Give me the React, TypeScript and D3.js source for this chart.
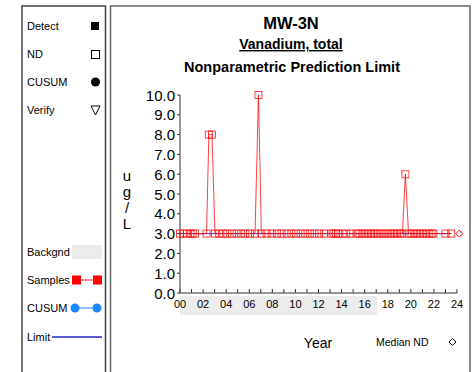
import React from "react";
import * as d3 from "d3";

const sampleYears = [
  0, 0.3, 0.6, 0.9, 1.1, 1.3,
  2.3, 2.5, 2.77, 3.03, 3.4, 3.75, 4.1, 4.5, 4.9, 5.3, 5.65, 6.07, 6.5, 6.8, 7.05,
  7.5, 7.95, 8.4, 8.8, 9.25, 9.65, 10.05, 10.45, 10.85, 11.25, 11.65, 12.05, 12.5,
  13.1, 13.3, 13.5, 13.7, 14.1, 14.4, 14.8, 15.3,
  15.55, 15.8, 16.05, 16.3, 16.55, 16.8, 17.05, 17.3, 17.55, 17.8, 18.05, 18.3, 18.55, 18.8, 19.05,
  19.27, 19.53, 19.8, 20.05, 20.3, 20.55, 20.8, 21.05, 21.3, 21.55, 21.8, 21.95,
  23.0, 23.5,
];
const sampleValues = [
  3, 3, 3, 3, 3, 3,
  3, 8, 8, 3, 3, 3, 3, 3, 3, 3, 3, 3, 3, 10, 3,
  3, 3, 3, 3, 3, 3, 3, 3, 3, 3, 3, 3, 3,
  3, 3, 3, 3, 3, 3, 3, 3,
  3, 3, 3, 3, 3, 3, 3, 3, 3, 3, 3, 3, 3, 3, 3,
  3, 6, 3, 3, 3, 3, 3, 3, 3, 3, 3, 3,
  3, 3,
];
const limitValue = 3.0;
const limitRange = [0, 23.5];
const medianND = { year: 24.2, value: 3.0 };
const backgroundRange = [0, 17.1];
const yTicks = [0, 1, 2, 3, 4, 5, 6, 7, 8, 9, 10];
const xMinorTicks = d3.range(0, 25, 1);
const xLabelTicks = d3.range(0, 25, 2);
const legendSymbols = ["Detect", "ND", "CUSUM", "Verify"];
const legendLines = ["Backgnd", "Samples", "CUSUM", "Limit"];

const FONT = "Liberation Sans, Arial, sans-serif";

export default function App() {
  const x = d3.scaleLinear().domain([0, 24]).range([180, 457]);
  const y = d3.scaleLinear().domain([0, 10]).range([293, 95]);
  const pts = sampleYears.map((yr, i) => [yr, sampleValues[i]] as [number, number]);
  const line = d3.line<[number, number]>().x((d) => x(d[0])).y((d) => y(d[1]));
  const ms = 7;
  const red = "#ff0000";

  const symY = [26, 54, 82, 110];
  const lineY = [252, 280, 308, 337];

  return (
    <svg
      width={476}
      height={372}
      style={{ position: "absolute", left: 0, top: 0, background: "#fff" }}
      fontFamily={FONT}
    >
      <rect x={0} y={0} width={476} height={372} fill="#fff" />
      {/* panels */}
      <path d="M22,380 V6 H105.5 V380" fill="none" stroke="#444" strokeWidth={1.5} />
      <path d="M110.5,380 V6 H470 V380" fill="none" stroke="#666" strokeWidth={1.5} />

      {/* left legend symbols */}
      {legendSymbols.map((name, i) => (
        <text key={name} x={27} y={symY[i] + 4} fontSize={11} fill="#000">
          {name}
        </text>
      ))}
      <rect x={91} y={symY[0] - 4} width={8} height={8} fill="#000" />
      <rect x={91.5} y={symY[1] - 3.5} width={8} height={8} fill="none" stroke="#000" strokeWidth={1} />
      <circle cx={95.5} cy={symY[2]} r={4.5} fill="#000" />
      <path d={`M91,${symY[3] - 4} H100 L95.5,${symY[3] + 5} Z`} fill="none" stroke="#000" strokeWidth={1} />

      {legendLines.map((name, i) => (
        <text key={name + i} x={27} y={lineY[i] + 4} fontSize={11} fill="#000">
          {name}
        </text>
      ))}
      <rect x={72} y={lineY[0] - 7} width={30} height={14} fill="#ececec" />
      <line x1={76} x2={97} y1={lineY[1]} y2={lineY[1]} stroke="#ff6666" strokeWidth={1.5} />
      <rect x={72} y={lineY[1] - 4.5} width={9} height={9} fill={red} />
      <rect x={93} y={lineY[1] - 4.5} width={9} height={9} fill={red} />
      <line x1={75} x2={97} y1={lineY[2]} y2={lineY[2]} stroke="#66aaff" strokeWidth={1.5} />
      <circle cx={75} cy={lineY[2]} r={4.5} fill="#1e88ff" />
      <circle cx={97} cy={lineY[2]} r={4.5} fill="#1e88ff" />
      <line x1={52} x2={102} y1={lineY[3]} y2={lineY[3]} stroke="#2222cc" strokeWidth={1.3} />

      {/* titles */}
      <text x={291} y={29} textAnchor="middle" fontSize={16.5} fontWeight="bold">MW-3N</text>
      <text x={291} y={49} textAnchor="middle" fontSize={14} fontWeight="bold" textDecoration="underline">
        Vanadium, total
      </text>
      <text x={292} y={72} textAnchor="middle" fontSize={14.5} fontWeight="bold">
        Nonparametric Prediction Limit
      </text>

      {/* background band */}
      <rect x={x(backgroundRange[0])} y={296} width={x(backgroundRange[1]) - x(backgroundRange[0])} height={19} fill="#ececec" />

      {/* y axis */}
      <line x1={180} x2={180} y1={y(10)} y2={y(0)} stroke="#333" strokeWidth={1} />
      {yTicks.map((t) => (
        <g key={t}>
          <line x1={177} x2={180} y1={y(t)} y2={y(t)} stroke="#333" />
          <text x={175} y={y(t) + 5.5} textAnchor="end" fontSize={15} fill="#000">
            {t.toFixed(1)}
          </text>
        </g>
      ))}
      {["u", "g", "/", "L"].map((c, i) => (
        <text key={i} x={127} y={181 + i * 16} textAnchor="middle" fontSize={15} fill="#000">
          {c}
        </text>
      ))}

      {/* x axis */}
      <line x1={x(0)} x2={x(24)} y1={293} y2={293} stroke="#333" strokeWidth={1} />
      {xMinorTicks.map((t) => (
        <line key={t} x1={x(t)} x2={x(t)} y1={289} y2={293} stroke="#333" />
      ))}
      {xLabelTicks.map((t) => (
        <text key={t} x={x(t)} y={307.5} textAnchor="middle" fontSize={11} fill="#000">
          {String(t).padStart(2, "0")}
        </text>
      ))}
      <text x={318} y={348} textAnchor="middle" fontSize={14} fill="#000">Year</text>
      <text x={376} y={346} fontSize={10.5} fill="#000">Median ND</text>
      <path d="M452.5,338.5 L456,342 L452.5,345.5 L449,342 Z" fill="none" stroke="#000" strokeWidth={1} />

      {/* limit line */}
      <line x1={x(limitRange[0])} x2={x(limitRange[1])} y1={y(limitValue)} y2={y(limitValue)} stroke="#3333dd" strokeWidth={1} />

      {/* samples */}
      <path d={line(pts) || ""} fill="none" stroke={red} strokeWidth={1} strokeOpacity={0.75} />
      {pts.map((p, i) => (
        <rect
          key={i}
          x={x(p[0]) - ms / 2}
          y={y(p[1]) - ms / 2}
          width={ms}
          height={ms}
          fill="none"
          stroke={red}
          strokeWidth={1}
          strokeOpacity={0.75}
        />
      ))}
      <path
        d={`M${x(medianND.year)},${y(medianND.value) - 3.5} l3.5,3.5 l-3.5,3.5 l-3.5,-3.5 Z`}
        fill="none"
        stroke={red}
        strokeWidth={1}
      />
    </svg>
  );
}
